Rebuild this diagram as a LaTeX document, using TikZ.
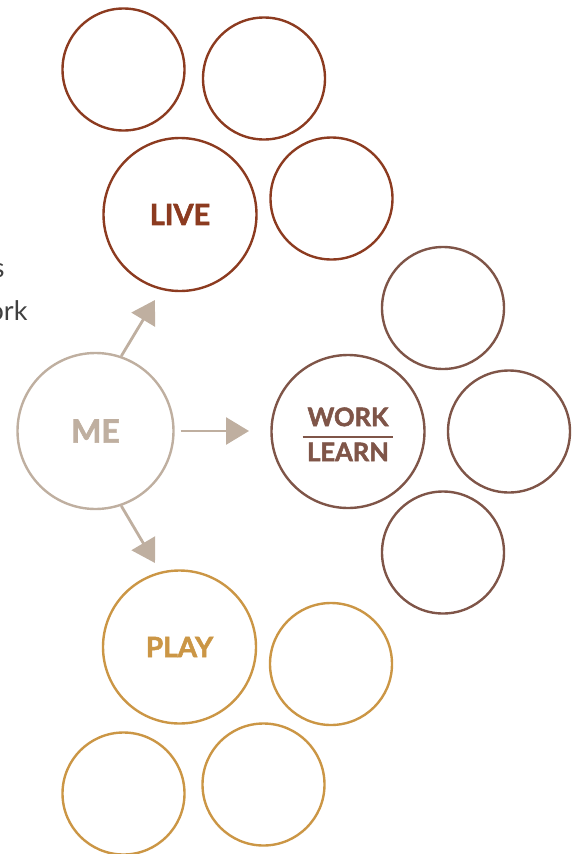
\documentclass[tikz,border=0pt]{standalone}
\usepackage{fontspec}
\setmainfont{Lato}
\newfontfamily\heavyfont{Lato}[FakeBold=2]
\usetikzlibrary{arrows.meta}
\definecolor{livec}{HTML}{8C3B20}
\definecolor{workc}{HTML}{7F5548}
\definecolor{playc}{HTML}{CB9645}
\definecolor{mec}{HTML}{BFAFA0}
\definecolor{sidec}{HTML}{404040}
\begin{document}
\begin{tikzpicture}[x=1pt,y=-1pt]
			\tikzstyle{SC}=[circle,draw,line width=2.4pt,inner sep=0pt,minimum size=122pt]
			\tikzstyle{BC}=[SC,minimum size=153pt]
			\tikzstyle{arr}=[color=mec,line width=2.8pt,-{Triangle[length=23pt,width=27pt]}]
			\useasboundingbox (0,0) rectangle (579,854);
			% side text
			\node[anchor=base east,text=sidec,font=\fontsize{27}{43}\selectfont] (side-1) at (8,277) {s};
			\node[anchor=base east,text=sidec,font=\fontsize{27}{43}\selectfont] (side-2) at (31,320) {ork};
			\begin{scope}[draw=livec,text=livec,font=\fontsize{29}{35}\selectfont\heavyfont\bfseries]
			\node[SC] (live-1) at (123.5,69.5) {};
			\node[SC] (live-2) at (264,78.5)   {};
			\node[BC] (live)   at (180,214.5)  {LIVE};
			\node[SC] (live-3) at (331.5,198.5) {};
			\end{scope}
			\begin{scope}[draw=workc,text=workc,font=\fontsize{25.5}{33}\selectfont\heavyfont\bfseries]
			\node[BC] (work)   at (348,431.5) {};
			\node[inner sep=0pt] (work-lab) at (348,437)
				{\setlength\arrayrulewidth{2pt}\setlength\tabcolsep{4.5pt}\begin{tabular}{c}WORK\\\hline LEARN\end{tabular}};
			\node[SC] (work-1) at (443,308)   {};
			\node[SC] (work-2) at (509,431.5) {};
			\node[SC] (work-3) at (443,552.5) {};
			\end{scope}
			\begin{scope}[draw=playc,text=playc,font=\fontsize{28}{34}\selectfont\heavyfont\bfseries]
			\node[BC] (play)   at (179.5,647)  {PLAY};
			\node[SC] (play-1) at (331,664)    {};
			\node[SC] (play-2) at (123.5,793.5) {};
			\node[SC] (play-3) at (263.5,784.5) {};
			\end{scope}
			\node[BC,draw=mec,text=mec,minimum size=156pt,font=\fontsize{32}{38}\selectfont\heavyfont\bfseries] (me) at (95.5,431) {ME};
			
			\coordinate (t-live) at (155,300);
			\coordinate (t-work) at (249,431);
			\coordinate (t-play) at (155,563);
			\path[arr]
			(me.71)  edge (t-live)
			(me)     edge[shorten <=6pt] (t-work)
			(me.-71) edge (t-play)
			;
		\end{tikzpicture}
\end{document}
